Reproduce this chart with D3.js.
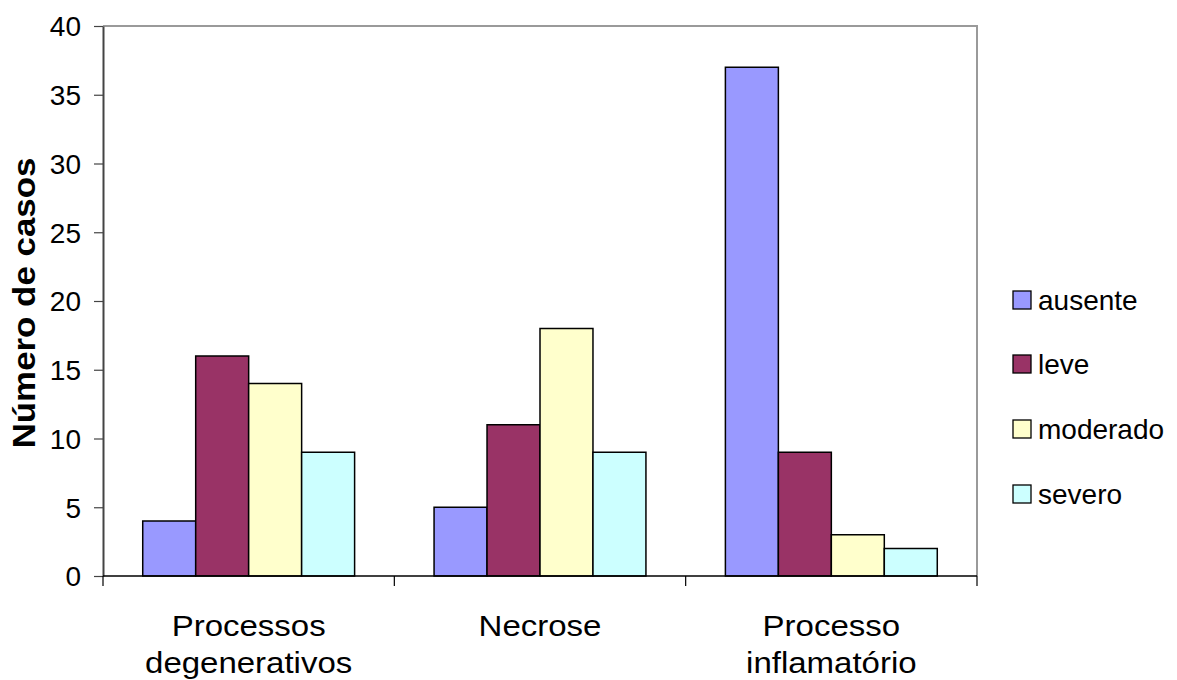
<!DOCTYPE html>
<html>
<head>
<meta charset="utf-8">
<script src="https://cdn.jsdelivr.net/npm/d3@7/dist/d3.min.js"></script>
<style>
  html, body { margin: 0; padding: 0; background: #fff; }
  svg { display: block; }
  text { font-family: "Liberation Sans", Arial, sans-serif; fill: #000; }
</style>
</head>
<body>
<svg id="chart" width="1177" height="680"></svg>
<script>
// Categories (each label split over lines)
const categories = ["Processos degenerativos", "Necrose", "Processo inflamatório"];
const categoryLines = [["Processos", "degenerativos"], ["Necrose"], ["Processo", "inflamatório"]];
const seriesNames = ["ausente", "leve", "moderado", "severo"];
const seriesColors = ["#9999FF", "#993366", "#FFFFCC", "#CCFFFF"];
// Number of cases per category, one array per series
const ausente  = [4, 5, 37];
const leve     = [16, 11, 9];
const moderado = [14, 18, 3];
const severo   = [9, 9, 2];
const seriesValues = [ausente, leve, moderado, severo];
const yTicks = [0, 5, 10, 15, 20, 25, 30, 35, 40];

const svg = d3.select("#chart");
const plot = { left: 103, right: 977, top: 26, bottom: 576 };

const x0 = d3.scaleBand().domain(categories).range([plot.left, plot.right]).padding(0);
// Four bars per group, with a gap of 1.5 bar widths split around them
const x1 = d3.scaleBand().domain(seriesNames)
  .range([x0.bandwidth() * 0.75 / 5.5, x0.bandwidth() * 4.75 / 5.5]).padding(0);
const y = d3.scaleLinear().domain([0, 40]).range([plot.bottom, plot.top]);

// Plot frame: top and right in grey
svg.append("path")
  .attr("d", `M${plot.left},${plot.top}H${plot.right}V${plot.bottom}`)
  .attr("fill", "none").attr("stroke", "#9a9a9a").attr("stroke-width", 2);

// Bars
categories.forEach((c, ci) => {
  seriesNames.forEach((s, si) => {
    const v = seriesValues[si][ci];
    svg.append("rect")
      .attr("x", x0(c) + x1(s)).attr("y", y(v))
      .attr("width", x1.bandwidth()).attr("height", y(0) - y(v))
      .attr("fill", seriesColors[si])
      .attr("stroke", "#000").attr("stroke-width", 1.5);
  });
});

// Y axis
const yAxis = d3.axisLeft(y).tickValues(yTicks).tickSize(9).tickPadding(13).tickSizeOuter(0);
const gy = svg.append("g").attr("transform", `translate(${plot.left},0)`).call(yAxis);
gy.select(".domain").attr("stroke", "#444").attr("stroke-width", 2);
gy.selectAll(".tick line").attr("stroke", "#444").attr("stroke-width", 1.2);
gy.selectAll(".tick text").style("font-size", "28px").style("font-family", "'Liberation Sans', Arial, sans-serif").attr("dy", "0.35em");

// X axis baseline and category separators
const gx = svg.append("g");
gx.append("line").attr("x1", plot.left).attr("x2", plot.right)
  .attr("y1", y(0)).attr("y2", y(0)).attr("stroke", "#000").attr("stroke-width", 1.5);
const bounds = categories.map(c => x0(c)).concat([plot.right]);
gx.selectAll(".sep").data(bounds).enter().append("line")
  .attr("x1", d => d).attr("x2", d => d)
  .attr("y1", y(0)).attr("y2", y(0) + 10)
  .attr("stroke", "#000").attr("stroke-width", 1.2);

// Category labels, slightly widened
categories.forEach((c, ci) => {
  const cx = x0(c) + x0.bandwidth() / 2;
  const g = svg.append("g").attr("transform", `translate(${cx},636) scale(1.1,1)`);
  const t = g.append("text")
    .attr("x", 0).attr("y", 0)
    .attr("text-anchor", "middle")
    .style("font-size", "30px");
  categoryLines[ci].forEach((line, li) => {
    t.append("tspan").attr("x", 0).attr("dy", li === 0 ? 0 : 37).text(line);
  });
});

// Y axis title
svg.append("g")
  .attr("transform", `translate(35,${(plot.top + plot.bottom) / 2 + 2}) rotate(-90) scale(1.09,1)`)
  .append("text")
  .attr("text-anchor", "middle")
  .style("font-size", "32px").style("font-weight", "bold")
  .text("Número de casos");

// Legend
const legendY = [300, 364, 429, 494];
seriesNames.forEach((s, si) => {
  svg.append("rect")
    .attr("x", 1013).attr("y", legendY[si] - 9)
    .attr("width", 18).attr("height", 18)
    .attr("fill", seriesColors[si]).attr("stroke", "#000").attr("stroke-width", 1.3);
  svg.append("text")
    .attr("x", 1038).attr("y", legendY[si])
    .attr("dy", "0.35em")
    .style("font-size", "28px")
    .text(s);
});
</script>
</body>
</html>
